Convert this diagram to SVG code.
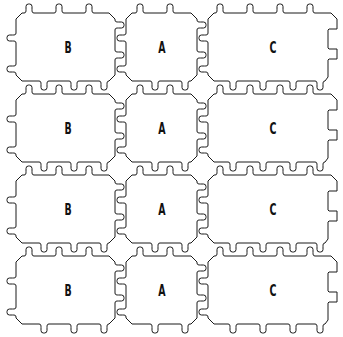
<svg xmlns="http://www.w3.org/2000/svg" xmlns:xlink="http://www.w3.org/1999/xlink" width="343" height="337" viewBox="0 0 343 337">
<style>
.pc{fill:#fff;stroke:#1a1a1a;stroke-width:1;stroke-linejoin:round}
.lb{font-family:"DejaVu Sans Condensed","DejaVu Sans",sans-serif;font-weight:bold;font-size:15px;text-anchor:middle;fill:#111}
</style>
<defs>
<path id="pB" class="pc" d="M6,0 H8 c2,0 2,-1.5 2,-3.5 v-3 q0,-2.5 2.5,-2.5 h1 q2.5,0 2.5,2.5 v3 c0,2 0,3.5 2,3.5 H38 c2,0 2,-1.5 2,-3.5 v-3 q0,-2.5 2.5,-2.5 h1 q2.5,0 2.5,2.5 v3 c0,2 0,3.5 2,3.5 H68 c2,0 2,-1.5 2,-3.5 v-3 q0,-2.5 2.5,-2.5 h1 q2.5,0 2.5,2.5 v3 c0,2 0,3.5 2,3.5 H93 L99,6 V7 c0,2 1.5,2 3.5,2 h3 q2.5,0 2.5,2.5 v1 q0,2.5 -2.5,2.5 h-3 c-2,0 -3.5,0 -3.5,2 V37 c0,2 1.5,2 3.5,2 h3 q2.5,0 2.5,2.5 v1 q0,2.5 -2.5,2.5 h-3 c-2,0 -3.5,0 -3.5,2 V62 L93,68 c-2,0 -2,1.5 -2,3.5 v3 q0,2.5 -2.5,2.5 h-1 q-2.5,0 -2.5,-2.5 v-3 c0,-2 0,-3.5 -2,-3.5 H63 c-2,0 -2,1.5 -2,3.5 v3 q0,2.5 -2.5,2.5 h-1 q-2.5,0 -2.5,-2.5 v-3 c0,-2 0,-3.5 -2,-3.5 H33 c-2,0 -2,1.5 -2,3.5 v3 q0,2.5 -2.5,2.5 h-1 q-2.5,0 -2.5,-2.5 v-3 c0,-2 0,-3.5 -2,-3.5 H6 L0,62 V61 c0,-2 -1.5,-2 -3.5,-2 h-3 q-2.5,0 -2.5,-2.5 v-1 q0,-2.5 2.5,-2.5 h3 c2,0 3.5,0 3.5,-2 V30 c0,-2 -1.5,-2 -3.5,-2 h-3 q-2.5,0 -2.5,-2.5 v-1 q0,-2.5 2.5,-2.5 h3 c2,0 3.5,0 3.5,-2 V6 Z"/>
<path id="pA" class="pc" d="M6,0 H9 c2,0 2,-1.5 2,-3.5 v-3 q0,-2.5 2.5,-2.5 h1 q2.5,0 2.5,2.5 v3 c0,2 0,3.5 2,3.5 H39 c2,0 2,-1.5 2,-3.5 v-3 q0,-2.5 2.5,-2.5 h1 q2.5,0 2.5,2.5 v3 c0,2 0,3.5 2,3.5 H65 L71,6 V7 c0,2 1.5,2 3.5,2 h3 q2.5,0 2.5,2.5 v1 q0,2.5 -2.5,2.5 h-3 c-2,0 -3.5,0 -3.5,2 V37 c0,2 1.5,2 3.5,2 h3 q2.5,0 2.5,2.5 v1 q0,2.5 -2.5,2.5 h-3 c-2,0 -3.5,0 -3.5,2 V62 L65,68 H64 c-2,0 -2,1.5 -2,3.5 v3 q0,2.5 -2.5,2.5 h-1 q-2.5,0 -2.5,-2.5 v-3 c0,-2 0,-3.5 -2,-3.5 H34 c-2,0 -2,1.5 -2,3.5 v3 q0,2.5 -2.5,2.5 h-1 q-2.5,0 -2.5,-2.5 v-3 c0,-2 0,-3.5 -2,-3.5 H6 L0,62 V61 c0,-2 -1.5,-2 -3.5,-2 h-3 q-2.5,0 -2.5,-2.5 v-1 q0,-2.5 2.5,-2.5 h3 c2,0 3.5,0 3.5,-2 V30 c0,-2 -1.5,-2 -3.5,-2 h-3 q-2.5,0 -2.5,-2.5 v-1 q0,-2.5 2.5,-2.5 h3 c2,0 3.5,0 3.5,-2 V6 Z"/>
<path id="pC" class="pc" d="M6,0 H7 c2,0 2,-1.5 2,-3.5 v-3 q0,-2.5 2.5,-2.5 h1 q2.5,0 2.5,2.5 v3 c0,2 0,3.5 2,3.5 H37 c2,0 2,-1.5 2,-3.5 v-3 q0,-2.5 2.5,-2.5 h1 q2.5,0 2.5,2.5 v3 c0,2 0,3.5 2,3.5 H67 c2,0 2,-1.5 2,-3.5 v-3 q0,-2.5 2.5,-2.5 h1 q2.5,0 2.5,2.5 v3 c0,2 0,3.5 2,3.5 H97 c2,0 2,-1.5 2,-3.5 v-3 q0,-2.5 2.5,-2.5 h1 q2.5,0 2.5,2.5 v3 c0,2 0,3.5 2,3.5 H123 L129,6 V16 H121 l-1,1 V35 l1,1 H129 V46 H121 l-1,1 V64 L117,68 c-2,0 -2,1.5 -2,3.5 v3 q0,2.5 -2.5,2.5 h-1 q-2.5,0 -2.5,-2.5 v-3 c0,-2 0,-3.5 -2,-3.5 H90 c-2,0 -2,1.5 -2,3.5 v3 q0,2.5 -2.5,2.5 h-1 q-2.5,0 -2.5,-2.5 v-3 c0,-2 0,-3.5 -2,-3.5 H60 c-2,0 -2,1.5 -2,3.5 v3 q0,2.5 -2.5,2.5 h-1 q-2.5,0 -2.5,-2.5 v-3 c0,-2 0,-3.5 -2,-3.5 H30 c-2,0 -2,1.5 -2,3.5 v3 q0,2.5 -2.5,2.5 h-1 q-2.5,0 -2.5,-2.5 v-3 c0,-2 0,-3.5 -2,-3.5 H6 L0,62 V61 c0,-2 -1.5,-2 -3.5,-2 h-3 q-2.5,0 -2.5,-2.5 v-1 q0,-2.5 2.5,-2.5 h3 c2,0 3.5,0 3.5,-2 V30 c0,-2 -1.5,-2 -3.5,-2 h-3 q-2.5,0 -2.5,-2.5 v-1 q0,-2.5 2.5,-2.5 h3 c2,0 3.5,0 3.5,-2 V6 Z"/>
</defs>
<g id="r1-B"><use xlink:href="#pB" x="16" y="13"/><text class="lb" transform="translate(68,52.5) scale(0.7,1)">B</text></g>
<g id="r1-A"><use xlink:href="#pA" x="126" y="13"/><text class="lb" transform="translate(162,52.5) scale(0.7,1)">A</text></g>
<g id="r1-C"><use xlink:href="#pC" x="208" y="13"/><text class="lb" transform="translate(273,52.5) scale(0.7,1)">C</text></g>
<g id="r2-B"><use xlink:href="#pB" x="16" y="94"/><text class="lb" transform="translate(68,133.5) scale(0.7,1)">B</text></g>
<g id="r2-A"><use xlink:href="#pA" x="126" y="94"/><text class="lb" transform="translate(162,133.5) scale(0.7,1)">A</text></g>
<g id="r2-C"><use xlink:href="#pC" x="208" y="94"/><text class="lb" transform="translate(273,133.5) scale(0.7,1)">C</text></g>
<g id="r3-B"><use xlink:href="#pB" x="16" y="175"/><text class="lb" transform="translate(68,214.5) scale(0.7,1)">B</text></g>
<g id="r3-A"><use xlink:href="#pA" x="126" y="175"/><text class="lb" transform="translate(162,214.5) scale(0.7,1)">A</text></g>
<g id="r3-C"><use xlink:href="#pC" x="208" y="175"/><text class="lb" transform="translate(273,214.5) scale(0.7,1)">C</text></g>
<g id="r4-B"><use xlink:href="#pB" x="16" y="256"/><text class="lb" transform="translate(68,295.5) scale(0.7,1)">B</text></g>
<g id="r4-A"><use xlink:href="#pA" x="126" y="256"/><text class="lb" transform="translate(162,295.5) scale(0.7,1)">A</text></g>
<g id="r4-C"><use xlink:href="#pC" x="208" y="256"/><text class="lb" transform="translate(273,295.5) scale(0.7,1)">C</text></g>
</svg>
